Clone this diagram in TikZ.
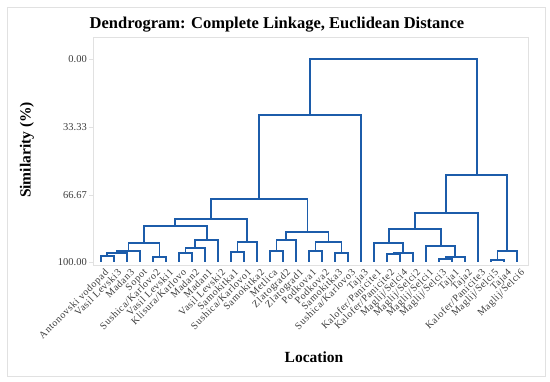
\documentclass[tikz,border=0pt]{standalone}
\usepackage{fontspec}
\setmainfont{Liberation Serif}
\newfontfamily\leaffont[LetterSpace=6]{Liberation Serif}
\definecolor{linkblue}{RGB}{28,92,170}
\definecolor{framegray}{RGB}{225,225,225}
\definecolor{labelgray}{RGB}{60,60,60}

\begin{document}
\begin{tikzpicture}[x=1pt, y=-1pt,
  link/.style={linkblue, line width=1.8pt, line join=miter},
  leaf/.style={labelgray, font=\leaffont\fontsize{10}{11}\selectfont, rotate=45, anchor=north east, inner sep=0pt},
  tick/.style={labelgray, font=\fontsize{10.5}{11}\selectfont, anchor=east, inner sep=0pt}]
  \useasboundingbox (0,0) rectangle (550,382);
  % Frames
  \draw[framegray, line width=0.6pt] (7,7) rectangle (545,376);
  \draw[framegray, line width=0.6pt] (93,37) rectangle (528,265);
  % Title and axis titles
  \node[font=\fontsize{16.5}{18}\selectfont\bfseries] (title) at (277,25) {Dendrogram: Complete Linkage, Euclidean Distance};
  \node[font=\fontsize{15.5}{17}\selectfont\bfseries, rotate=90] (ylab) at (27,150) {Similarity (\%)};
  \node[font=\fontsize{15.5}{17}\selectfont\bfseries] (xlab) at (314,357) {Location};
  % Y ticks
  \foreach \v/\y in {0.00/59, 33.33/127, 66.67/195, 100.00/262} {
    \draw[framegray, line width=0.6pt] (89,\y) -- (93,\y);
    \node[tick] at (87,\y) {\v};
  }
  % Leaves
  \foreach \i in {1,...,33}
    \coordinate (l\i) at ({101+13*(\i-1)},262);
  \foreach \i/\t in {1/Antonovski vodopad, 2/Vasil Levski3, 3/Madan3, 4/Sopot,
      5/{Sushica/Karlovo2}, 6/Vasil Levski1, 7/{Klisura/Karlovo}, 8/Madan2,
      9/Madan1, 10/Vasil Levski2, 11/Samokitka1, 12/{Sushica/Karlovo1},
      13/Samokitka2, 14/Metlica, 15/Zlatograd2, 16/Zlatograd1, 17/Podkova1,
      18/Podkova2, 19/Samokitka3, 20/{Sushica/Karlovo3}, 21/Taja3,
      22/{Kalofer/Panicite1}, 23/{Kalofer/Panicite2}, 24/{Maglij/Selci4},
      25/{Maglij/Selci2}, 26/{Maglij/Selci1}, 27/{Maglij/Selci3}, 28/Taja1,
      29/Taja2, 30/{Kalofer/Panicite3}, 31/{Maglij/Selci5}, 32/Taja4,
      33/{Maglij/Selci6}}
    \node[leaf] (t\i) at ([xshift=3pt, yshift=-6pt]l\i) {\t};
  % Left branch clusters
  \coordinate (k1) at (107,256);
  \coordinate (k2) at (117,253);
  \coordinate (k3) at (128.5,250.7);
  \coordinate (k4) at (159.5,257);
  \coordinate (kA) at (144,243.3);
  \coordinate (k5) at (185.5,253);
  \coordinate (k6) at (195.25,248);
  \coordinate (kB) at (206.6,240);
  \coordinate (kAB) at (175.3,225.7);
  \coordinate (k7) at (237.5,252);
  \coordinate (kC) at (247.25,242);
  \coordinate (kABC) at (211.3,219.3);
  \coordinate (k8) at (276.5,250.7);
  \coordinate (kD) at (286.25,240);
  \coordinate (k9) at (315.5,250.7);
  \coordinate (k10) at (341.5,252.7);
  \coordinate (kE) at (328.5,242);
  \coordinate (kDE) at (307.4,232.3);
  \coordinate (kL) at (259.3,199.3);
  \coordinate (kM) at (310.2,115);
  % Right branch clusters
  \coordinate (k11) at (393.5,254);
  \coordinate (k12) at (403.25,253);
  \coordinate (kF) at (388.6,243);
  \coordinate (k13) at (445.5,259);
  \coordinate (k14) at (455.25,256.7);
  \coordinate (kG) at (440.6,246);
  \coordinate (kFG) at (414.6,229);
  \coordinate (kH) at (446.3,213.3);
  \coordinate (k15) at (497.5,260);
  \coordinate (kI) at (507.25,251);
  \coordinate (kR) at (476.8,175);
  \coordinate (root) at (393.5,59);
  % Links
  \foreach \ka/\km/\kb in {l1/k1/l2, k1/k2/l3, k2/k3/l4, l5/k4/l6, k3/kA/k4,
      l7/k5/l8, k5/k6/l9, k6/kB/l10, kA/kAB/kB, l11/k7/l12, k7/kC/l13,
      kAB/kABC/kC, l14/k8/l15, k8/kD/l16, l17/k9/l18, l19/k10/l20, k9/kE/k10,
      kD/kDE/kE, kABC/kL/kDE, kL/kM/l21,
      l23/k11/l24, k11/k12/l25, l22/kF/k12, l27/k13/l28, k13/k14/l29,
      l26/kG/k14, kF/kFG/kG, kFG/kH/l30, l31/k15/l32, k15/kI/l33, kH/kR/kI,
      kM/root/kR}
    \draw[link] (\ka) |- (\km) -| (\kb);
\end{tikzpicture}
\end{document}
